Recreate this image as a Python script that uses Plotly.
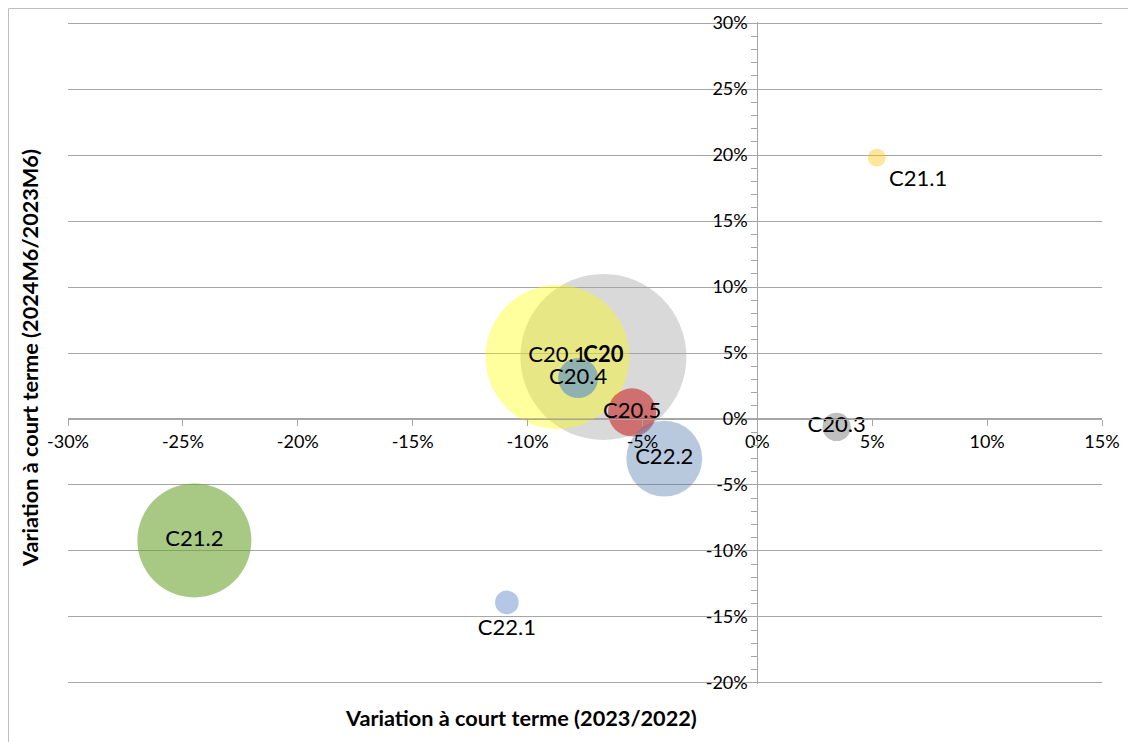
import plotly.graph_objects as go

# données (en %)
codes = ['C20', 'C20.1', 'C20.3', 'C20.4', 'C20.5', 'C21.1', 'C21.2', 'C22.1', 'C22.2']
var_annuelle = [-6.7, -8.7, 3.45, -7.8, -5.45, 5.2, -24.5, -10.9, -4.05]
var_semestre = [4.7, 4.7, -0.6, 3.1, 0.5, 19.8, -9.2, -13.9, -3.0]
poids = [68.9, 51.8, 2.0, 4.0, 5.8, 0.8, 32.5, 1.4, 14.4]
couleurs = ['rgba(165,165,165,0.42)', 'rgba(255,255,0,0.38)', 'rgba(128,128,128,0.5)',
            'rgba(85,143,205,0.6)', 'rgba(200,40,40,0.6)', 'rgba(255,192,0,0.4)',
            'rgba(110,165,50,0.6)', 'rgba(68,114,196,0.4)', 'rgba(80,120,170,0.4)']
positions = ['middle center', 'middle center', 'middle center', 'middle center', 'middle center',
             'bottom right', 'middle center', 'bottom center', 'middle center']

x_ticks = [-30, -25, -20, -15, -10, -5, 0, 5, 10, 15]
x_labels = ['-30%', '-25%', '-20%', '-15%', '-10%', '-5%', '0%', '5%', '10%', '15%']
y_ticks = [-20, -15, -10, -5, 0, 5, 10, 15, 20, 25, 30]
y_labels = ['-20%', '-15%', '-10%', '-5%', '0%', '5%', '10%', '15%', '20%', '25%', '30%']

font = 'Lato, "Open Sans", sans-serif'
gris = '#a6a6a6'
xmin, xmax = -30, 15
ymin, ymax = -20, 30
diam_max = 166

# zone de tracé dans la fenêtre (la page ajoute 8px de marge au div)
W, H = 1128, 734
gauche, haut, larg, haute = 60, 14, 1034, 662

libelles = ['<b>%s</b>' % c if c == 'C20' else c for c in codes]

fig = go.Figure()
fig.add_trace(
    go.Scatter(
        x=var_annuelle,
        y=var_semestre,
        mode='markers+text',
        text=libelles,
        textposition=positions,
        textfont=dict(family=font, size=22, color='black'),
        marker=dict(
            size=poids,
            sizemode='area',
            sizeref=2 * max(poids) / diam_max ** 2,
            color=couleurs,
            opacity=1,
            line=dict(width=0)
        ),
        cliponaxis=False,
        showlegend=False
    )
)

# axes croisés en 0 : x à y=0, y à x=0
pos_x = (0 - ymin) / (ymax - ymin)
pos_y = (0 - xmin) / (xmax - xmin)
eps = 0.08

fig.update_layout(
    width=W,
    height=H,
    margin=dict(l=gauche, r=W - gauche - larg, t=haut, b=H - haut - haute),
    paper_bgcolor='white',
    plot_bgcolor='white',
    font=dict(family=font, size=18, color='black'),
    xaxis=dict(
        range=[xmin, xmax],
        tickmode='array', tickvals=x_ticks, ticktext=x_labels,
        anchor='free', position=pos_x, automargin=False,
        showline=True, linecolor=gris, linewidth=1,
        ticks='outside', ticklen=6, tickcolor=gris,
        showgrid=False, zeroline=False,
        tickfont=dict(size=18)
    ),
    xaxis2=dict(
        range=[xmin, xmax], overlaying='x',
        tickmode='array', tickvals=x_ticks,
        anchor='free', position=pos_x, automargin=False,
        ticks='inside', ticklen=6, tickcolor=gris,
        showticklabels=False, showgrid=False, zeroline=False, showline=False
    ),
    yaxis=dict(
        range=[ymin - eps, ymax + eps],
        tickmode='array', tickvals=y_ticks, ticktext=y_labels,
        anchor='free', position=pos_y, automargin=False,
        showline=True, linecolor=gris, linewidth=1,
        ticks='outside', ticklen=6, tickcolor=gris,
        minor=dict(tickmode='linear', tick0=0, dtick=1, ticks='outside', ticklen=6,
                   tickcolor=gris, showgrid=False),
        showgrid=True, gridcolor=gris, gridwidth=1, zeroline=False,
        tickfont=dict(size=18)
    ),
    yaxis2=dict(
        range=[ymin - eps, ymax + eps], overlaying='y',
        tickmode='array', tickvals=y_ticks,
        anchor='free', position=pos_y, automargin=False,
        ticks='inside', ticklen=6, tickcolor=gris,
        minor=dict(tickmode='linear', tick0=0, dtick=1, ticks='inside', ticklen=6,
                   tickcolor=gris, showgrid=False),
        showticklabels=False, showgrid=False, zeroline=False, showline=False
    ),
    annotations=[
        dict(text='<b>Variation à court terme (2023/2022)</b>', xref='paper', yref='paper',
             x=(521 - 68) / larg, y=-(718 - 684) / haute, xanchor='center', yanchor='middle',
             showarrow=False, font=dict(size=21.7)),
        dict(text='<b>Variation à court terme (2024M6/2023M6)</b>', xref='paper', yref='paper',
             x=-(68 - 30) / larg, y=1 - (358 - 22) / haute, xanchor='center', yanchor='middle',
             textangle=-90, showarrow=False, font=dict(size=21.7)),
    ],
    shapes=[
        dict(type='rect', xref='paper', yref='paper',
             x0=-(gauche - 0.5) / larg, x1=1.05, y0=-0.2, y1=1 + (haut - 0.5) / haute,
             line=dict(color='#bfbfbf', width=1), layer='below')
    ]
)

fig.write_html("out.html")
